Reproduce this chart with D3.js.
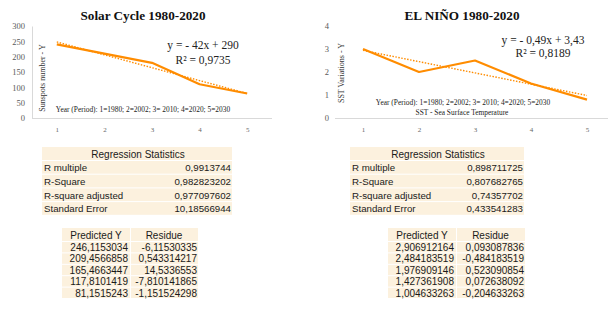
<!DOCTYPE html>
<html>
<head>
<meta charset="utf-8">
<script src="https://cdn.jsdelivr.net/npm/d3@7"></script>
<style>
  body { margin: 0; background: #fff; }
  svg text { font-family: "Liberation Serif", "Times New Roman", serif; }
  .tbl text { font-family: "Liberation Sans", Arial, sans-serif; font-size: 9.7px; fill: #1a1a1a; }
  .tbl2 text { font-size: 10px; }
</style>
</head>
<body>
<div id="graphique"></div>
<script>
// data
const periods = [1, 2, 3, 4, 5]
const sunspots = [240, 210, 180, 110, 80]
const sst = [3, 2, 2.5, 1.5, 0.8]
const solarTrend = [-42, 290]      // slope, intercept
const ninoTrend = [-0.49, 3.43]
const solarYTicks = [0, 50, 100, 150, 200, 250, 300]
const ninoYTicks = [0, 1, 2, 3, 4]

const statLabels = ['R multiple', 'R-Square', 'R-square adjusted', 'Standard Error']
const solarStats = ['0,9913744', '0,982823202', '0,977097602', '10,18566944']
const ninoStats = ['0,898711725', '0,807682765', '0,74357702', '0,433541283']
const solarPredicted = ['246,1153034', '209,4566858', '165,4663447', '117,8101419', '81,1515243']
const solarResidue = ['-6,11530335', '0,543314217', '14,5336553', '-7,810141865', '-1,151524298']
const ninoPredicted = ['2,906912164', '2,484183519', '1,976909146', '1,427361908', '1,004633263']
const ninoResidue = ['0,093087836', '-0,484183519', '0,523090854', '0,072638092', '-0,204633263']

const orange = '#ff8c00'
const svg = d3.select('#graphique').append('svg')
  .attr('width', 608).attr('height', 311)

function drawChart(o) {
  const g = svg.append('g')
  const x = d3.scalePoint().domain(periods).range(o.xRange).padding(0.5)
  const y = d3.scaleLinear().domain(o.yDomain).range([118, 26])

  // axes
  const ya = g.append('g').attr('transform', 'translate(' + o.yAxisX + ',0)')
    .call(d3.axisLeft(y).tickValues(o.yTicks).tickFormat(d3.format('d')).tickSize(0).tickPadding(o.yPad))
  ya.select('.domain').attr('stroke', o.showYLine ? '#d9d9d9' : 'none')
  ya.selectAll('text').attr('font-size', 8.5).attr('fill', '#595959')

  const xa = g.append('g').attr('transform', 'translate(0,118)')
    .call(d3.axisBottom(x).tickSize(0).tickPadding(9))
  xa.select('.domain').attr('stroke', '#d9d9d9').attr('d', 'M' + o.xLine[0] + ',0.5H' + o.xLine[1])
  xa.selectAll('text').attr('font-size', 7).attr('fill', '#666')

  // trend line (dotted)
  const tr = periods.map(p => [p, o.trend[0] * p + o.trend[1]])
  g.append('path').datum(tr)
    .attr('fill', 'none').attr('stroke', orange).attr('stroke-width', 1.4)
    .attr('stroke-dasharray', '1.5,1.5')
    .attr('d', d3.line().x(d => x(d[0])).y(d => y(d[1])))

  // series line
  g.append('path').datum(o.values)
    .attr('fill', 'none').attr('stroke', orange).attr('stroke-width', 2.2)
    .attr('stroke-linejoin', 'round')
    .attr('d', d3.line().x((d, i) => x(periods[i])).y(d => y(d)))

  // title
  g.append('text').attr('x', o.titleX).attr('y', 20).attr('text-anchor', 'middle')
    .attr('font-size', 13.2).attr('font-weight', 'bold').attr('fill', '#111').text(o.title)

  // y title
  g.append('text').attr('transform', 'translate(' + o.yTitle[0] + ',' + o.yTitle[1] + ') rotate(-90)')
    .attr('text-anchor', 'middle').attr('font-size', 8).attr('fill', '#333').text(o.yLabel)

  // equation
  g.append('text').attr('x', o.eq[0]).attr('y', o.eq[1]).attr('text-anchor', 'middle')
    .attr('font-size', 11.5).attr('fill', '#222').text(o.eqText)
  g.append('text').attr('x', o.eq[0]).attr('y', o.eq[1] + o.eqGap).attr('text-anchor', 'middle')
    .attr('font-size', 11.5).attr('fill', '#222').text(o.r2Text)

  // notes
  o.notes.forEach(n => {
    g.append('text').attr('x', n[0]).attr('y', n[1]).attr('text-anchor', 'middle')
      .attr('font-size', 7.4).attr('fill', '#222').text(n[2])
  })
}

drawChart({
  xRange: [33, 271], xLine: [32, 272], yDomain: [0, 300], yTicks: solarYTicks,
  yAxisX: 32, yPad: 7, showYLine: true, values: sunspots, trend: solarTrend,
  title: 'Solar Cycle 1980-2020', titleX: 143,
  yLabel: 'Sunspots number - Y', yTitle: [45, 78],
  eq: [203, 49], eqGap: 15, eqText: 'y = - 42x + 290', r2Text: 'R² = 0,9735',
  notes: [[143, 112, 'Year (Period): 1=1980; 2=2002; 3= 2010; 4=2020; 5=2030']]
})

drawChart({
  xRange: [335, 615], xLine: [335, 608], yDomain: [0, 4], yTicks: ninoYTicks,
  yAxisX: 333, yPad: 4, showYLine: false, values: sst, trend: ninoTrend,
  title: 'EL NIÑO 1980-2020', titleX: 462,
  yLabel: 'SST Variations - Y', yTitle: [344, 73],
  eq: [543, 44], eqGap: 13, eqText: 'y = - 0,49x + 3,43', r2Text: 'R² = 0,8189',
  notes: [[463, 105, 'Year (Period): 1=1980; 2=2002; 3= 2010; 4=2020; 5=2030'],
          [462, 114.5, 'SST - Sea Surface Temperature']]
})

// tables
const beige = '#fcf1de'
function statsTable(x0, x1, values) {
  const t = svg.append('g').attr('class', 'tbl')
  const rows = d3.range(statLabels.length)
  t.append('rect').attr('x', x0).attr('y', 147).attr('width', x1 - x0).attr('height', 13).attr('fill', beige)
  t.append('text').attr('x', (x0 + x1) / 2 + 1).attr('y', 157.5).attr('text-anchor', 'middle')
    .style('font-size', '10px').text('Regression Statistics')
  t.selectAll('.r').data(rows).enter().append('rect')
    .attr('x', x0).attr('y', i => 161 + i * 13.7).attr('width', x1 - x0).attr('height', 12.7).attr('fill', beige)
  t.selectAll('.lab').data(statLabels).enter().append('text')
    .attr('x', x0 + 2).attr('y', (d, i) => 171.3 + i * 13.7).text(d => d)
  t.selectAll('.val').data(values).enter().append('text')
    .attr('x', x1 - 1).attr('y', (d, i) => 171.3 + i * 13.7).attr('text-anchor', 'end').text(d => d)
}

function residTable(x0, xm, x1, pred, resid) {
  const t = svg.append('g').attr('class', 'tbl tbl2')
  const rows = d3.range(pred.length)
  t.append('rect').attr('x', x0).attr('y', 228).attr('width', xm - x0).attr('height', 13).attr('fill', beige)
  t.append('rect').attr('x', xm + 1).attr('y', 228).attr('width', x1 - xm - 1).attr('height', 13).attr('fill', beige)
  t.append('text').attr('x', (x0 + xm) / 2).attr('y', 238.5).attr('text-anchor', 'middle').text('Predicted Y')
  t.append('text').attr('x', (xm + x1) / 2).attr('y', 238.5).attr('text-anchor', 'middle').text('Residue')
  t.selectAll('.ra').data(rows).enter().append('rect')
    .attr('x', x0).attr('y', i => 242 + i * 11.4).attr('width', xm - x0).attr('height', 10.4).attr('fill', beige)
  t.selectAll('.rb').data(rows).enter().append('rect')
    .attr('x', xm + 1).attr('y', i => 242 + i * 11.4).attr('width', x1 - xm - 1).attr('height', 10.4).attr('fill', beige)
  t.selectAll('.p').data(pred).enter().append('text')
    .attr('x', xm - 2).attr('y', (d, i) => 251 + i * 11.4).attr('text-anchor', 'end').text(d => d)
  t.selectAll('.q').data(resid).enter().append('text')
    .attr('x', x1 - 1).attr('y', (d, i) => 251 + i * 11.4).attr('text-anchor', 'end').text(d => d)
}

statsTable(42, 232, solarStats)
statsTable(350, 524, ninoStats)
residTable(62, 130, 198, solarPredicted, solarResidue)
residTable(388, 456, 525, ninoPredicted, ninoResidue)
</script>
</body>
</html>
